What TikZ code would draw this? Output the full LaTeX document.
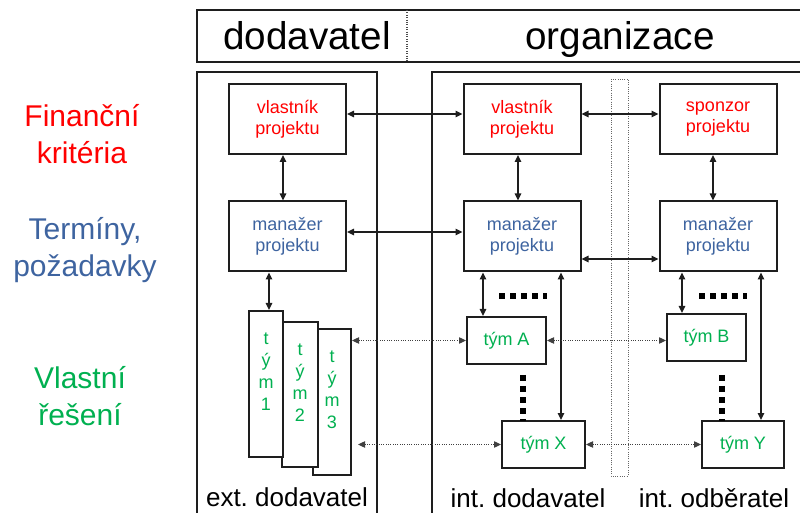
\documentclass[tikz,border=0pt]{standalone}
\usepackage{fontspec}
\setmainfont{Liberation Sans}
\usetikzlibrary{arrows.meta,calc}
\definecolor{fin}{RGB}{255,0,0}
\definecolor{ter}{RGB}{62,100,160}
\definecolor{res}{RGB}{0,176,80}
\definecolor{ink}{RGB}{30,30,30}
\frenchspacing

\begin{document}
\begin{tikzpicture}[x=0.75pt,y=-0.75pt,
  frame/.style={draw=ink,line width=1.5pt},
  rolebox/.style={draw=ink,line width=1.5pt,fill=white,inner sep=0pt,
    minimum width=87.75pt,minimum height=52.5pt,align=center,
    font=\fontsize{13.5}{15.75}\selectfont},
  teambox/.style={draw=ink,line width=1.5pt,fill=white,inner sep=0pt,
    minimum width=59.25pt,minimum height=35.25pt,text=res,
    font=\fontsize{13.5}{15.75}\selectfont},
  colbox/.style={draw=ink,line width=1.5pt,fill=white,inner sep=0pt},
  coltext/.style={anchor=north,text=res,align=center,inner sep=0pt,
    font=\fontsize{13.5}{16.5}\selectfont},
  side/.style={align=center,font=\fontsize{22.5}{27.75}\selectfont},
  head/.style={anchor=base,font=\fontsize{29}{34}\selectfont},
  foot/.style={anchor=base,font=\fontsize{19.5}{23}\selectfont},
  arr/.style={draw=ink,line width=1pt,{Triangle[length=5.25pt,width=4.8pt]}-{Triangle[length=5.25pt,width=4.8pt]}},
  darr/.style={draw=black!75,line width=0.75pt,densely dotted,
    {Triangle[length=5.25pt,width=4.8pt]}-{Triangle[length=5.25pt,width=4.8pt]}},
  dots/.style={draw=black,line width=4.5pt,dash pattern=on 4.5pt off 3.75pt}
]
\useasboundingbox (0,0) rectangle (800,513);
\begin{scope}
\clip (0,0) rectangle (800,513);
% header strip and the two columns
\draw[frame] (197,10) rectangle (812,62);
\draw[black!70,line width=0.8pt,densely dotted] (407,10) -- (407,62);
\draw[frame] (197,72) rectangle (377,530);
\draw[frame] (432,72) rectangle (812,530);
\draw[black!60,line width=0.7pt,densely dotted] (611,79) rectangle (628,476);
\end{scope}

\node[head] (hdod) at (307,50) {dodavatel};
\node[head] (horg) at (620,50) {organizace};

% row labels
\node[side,text=fin] (lfin) at (82,134) {Finanční\\kritéria};
\node[side,text=ter] (lter) at (85,250) {Termíny,\\požadavky};
\node[side,text=res] (lres) at (80,396) {Vlastní\\řešení};

% role boxes
\node[rolebox,text=fin] (v1) at (287.5,119) {vlastník\\projektu};
\node[rolebox,text=ter] (m1) at (287.5,236.5) {manažer\\projektu};
\node[rolebox,text=fin] (v2) at (522,119) {vlastník\\projektu};
\node[rolebox,text=ter] (m2) at (522,236.5) {manažer\\projektu};
\node[rolebox,text=fin] (s3) at (718,119) {sponzor\\projektu};
\node[rolebox,text=ter] (m3) at (718,236.5) {manažer\\projektu};

% external teams, stacked
\node[colbox,minimum width=28.5pt,minimum height=109.5pt] (t3) at (332,402) {};
\node[coltext] (t3l) at ([yshift=-17pt]t3.north) {t\\ý\\m\\3};
\node[colbox,minimum width=27pt,minimum height=108.75pt] (t2) at (300,394.5) {};
\node[coltext] (t2l) at ([yshift=-17pt]t2.north) {t\\ý\\m\\2};
\node[colbox,minimum width=25.5pt,minimum height=109.5pt] (t1) at (266,384) {};
\node[coltext] (t1l) at ([yshift=-17pt]t1.north) {t\\ý\\m\\1};

% internal teams
\node[teambox] (A) at (506.5,340.5) {tým A};
\node[teambox,minimum width=62.25pt] (X) at (543.5,444.5) {tým X};
\node[teambox] (B) at (706.5,337.5) {tým B};
\node[teambox,minimum width=61.5pt] (Y) at (743,444.5) {tým Y};

% column captions
\node[foot] (fext) at (287,506) {ext. dodavatel};
\node[foot] (fint) at (528,507) {int. dodavatel};
\node[foot] (fodb) at (714,507) {int. odběratel};

% vertical links inside the columns
\draw[arr] ([xshift=-3.375pt]v1.south) -- ([xshift=-3.375pt]m1.north);
\draw[arr] ([xshift=-3pt]v2.south) -- ([xshift=-3pt]m2.north);
\draw[arr] ([xshift=-3.75pt]s3.south) -- ([xshift=-3.75pt]m3.north);

% horizontal links between roles
\draw[arr] ([yshift=3.75pt]v1.east) -- ([yshift=3.75pt]v2.west);
\draw[arr] ([yshift=3.75pt]v2.east) -- ([yshift=3.75pt]s3.west);
\draw[arr] ([yshift=3.375pt]m1.east) -- ([yshift=3.375pt]m2.west);
\draw[arr] ([yshift=-16.875pt]m2.east) -- ([yshift=-16.875pt]m3.west);

% managers to teams
\coordinate (m1t) at ([xshift=-13.875pt]m1.south);
\draw[arr] (m1t) -- (m1t |- t1.north);
\coordinate (m2a) at ([xshift=-29.25pt]m2.south);
\draw[arr] (m2a) -- (m2a |- A.north);
\coordinate (m2x) at ([xshift=29.25pt]m2.south);
\draw[arr] (m2x) -- (m2x |- X.north);
\coordinate (m3b) at ([xshift=-27pt]m3.south);
\draw[arr] (m3b) -- (m3b |- B.north);
\coordinate (m3y) at ([xshift=32.25pt]m3.south);
\draw[arr] (m3y) -- (m3y |- Y.north);

% team-level communication
\draw[darr] (t3.east |- A.west) -- (A.west);
\coordinate (xl) at ($(t3.east |- X.west)+(6,0)$);
\draw[darr] (xl) -- (X.west);
\draw[darr] (A.east) -- (A.east -| B.west);
\draw[darr] (X.east) -- (Y.west);

% "more teams" marks
\draw[dots] (499,296) -- (547,296);
\draw[dots] (699,296) -- (747,296);
\draw[dots] (523,375) -- (523,421);
\draw[dots] (722,375) -- (722,421);
\end{tikzpicture}
\end{document}
